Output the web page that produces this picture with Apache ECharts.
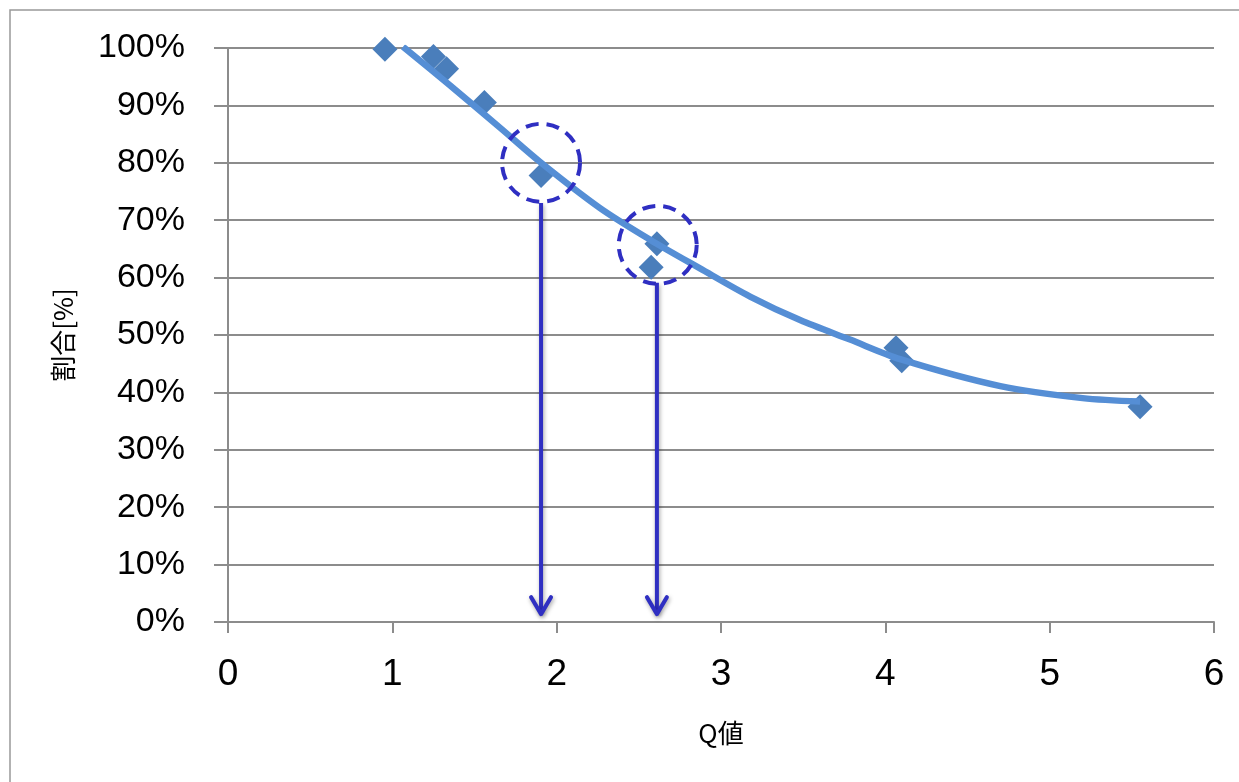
<!DOCTYPE html>
<html>
<head>
<meta charset="utf-8">
<script src="https://cdn.jsdelivr.net/npm/echarts@6/dist/echarts.min.js"></script>
<style>html,body{margin:0;padding:0;background:#fff}#c{width:1239px;height:782px}</style>
</head>
<body>
<div id="c"></div>
<script>
// measured points
const pointX = [0.955, 1.25, 1.33, 1.56, 1.905, 2.575, 2.61, 4.065, 4.10, 5.55];
const pointY = [0.998, 0.985, 0.964, 0.905, 0.778, 0.618, 0.659, 0.478, 0.455, 0.375];
// trend line
const trendX = [1.065, 1.35, 1.66, 1.905, 2.264, 2.568, 2.872, 3.177, 3.481, 3.785, 4.09, 4.70, 5.20, 5.55];
const trendY = [1.002, 0.935, 0.86, 0.80, 0.721, 0.666, 0.616, 0.567, 0.526, 0.492, 0.458, 0.411, 0.39, 0.384];
// highlighted points (dashed circles)
const circleX = [1.905, 2.615];
const circleY = [0.80, 0.657];
// arrows
const arrowX = [1.905, 2.61];
const arrowFrom = [0.730, 0.591];
const arrowTo = [0.012, 0.012];

const chart = echarts.init(document.getElementById('c'));
const gray = '#8c8c8c';
const dark = '#2f2fc2';
const font = '"Liberation Sans", "Noto Sans CJK JP", sans-serif';

chart.setOption({
  animation: false,
  backgroundColor: '#fff',
  graphic: [{
    type: 'rect', shape: {x: 10, y: 10, width: 1240, height: 790},
    style: {fill: 'none', stroke: '#999', lineWidth: 1.5}, silent: true, z: -1
  }],
  grid: {left: 228, right: 25, top: 48, bottom: 160},
  xAxis: {
    type: 'value', min: 0, max: 6, interval: 1,
    name: 'Q値', nameLocation: 'middle', nameGap: 98,
    nameTextStyle: {fontSize: 26, color: '#000', fontFamily: '"Noto Sans CJK JP", sans-serif'},
    axisLine: {show: true, onZero: false, lineStyle: {color: gray, width: 2}},
    axisTick: {show: true, length: 11, lineStyle: {color: gray, width: 2}},
    axisLabel: {fontSize: 37, color: '#000', margin: 34, fontFamily: font},
    splitLine: {show: false}
  },
  yAxis: {
    type: 'value', min: 0, max: 1, interval: 0.1,
    name: '割合[%]', nameLocation: 'middle', nameGap: 152, nameRotate: 90,
    nameTextStyle: {fontSize: 26, color: '#000', fontFamily: '"Noto Sans CJK JP", sans-serif'},
    axisLine: {show: true, lineStyle: {color: gray, width: 2}},
    axisTick: {show: true, length: 14, lineStyle: {color: gray, width: 2}},
    axisLabel: {fontSize: 34, color: '#000', margin: 43, fontFamily: font,
      formatter: v => Math.round(v * 100) + '%'},
    splitLine: {show: true, lineStyle: {color: gray, width: 2}}
  },
  series: [
    {
      type: 'scatter', symbol: 'diamond', symbolSize: 25, z: 2,
      itemStyle: {color: '#4a7ebb', opacity: 1},
      data: pointX.map((x, i) => [x, pointY[i]])
    },
    {
      type: 'line', smooth: 0.3, showSymbol: false, z: 3,
      lineStyle: {color: '#558ed5', width: 6.5},
      data: trendX.map((x, i) => [x, trendY[i]])
    },
    {
      type: 'custom', z: 4, clip: false,
      renderItem: (params, api) => {
        const c = api.coord([api.value(0), api.value(1)]);
        return {type: 'circle', shape: {cx: c[0], cy: c[1], r: 39},
          style: {fill: 'none', stroke: dark, lineWidth: 4, lineDash: [13, 8]}};
      },
      data: circleX.map((x, i) => [x, circleY[i]])
    },
    {
      type: 'custom', z: 5, clip: false,
      renderItem: (params, api) => {
        const a = api.coord([api.value(0), api.value(1)]);
        const b = api.coord([api.value(0), api.value(2)]);
        const st = {stroke: dark, lineWidth: 4, fill: 'none',
          shadowColor: 'rgba(0,0,0,0.35)', shadowBlur: 4, shadowOffsetX: 1, shadowOffsetY: 2};
        return {type: 'group', children: [
          {type: 'line', shape: {x1: a[0], y1: a[1], x2: b[0], y2: b[1] - 2}, style: st},
          {type: 'polyline', shape: {points: [[b[0] - 10, b[1] - 18], [b[0], b[1] - 1], [b[0] + 10, b[1] - 18]]},
            style: Object.assign({}, st, {lineJoin: 'round', lineCap: 'round'})}
        ]};
      },
      data: arrowX.map((x, i) => [x, arrowFrom[i], arrowTo[i]])
    }
  ]
});
</script>
</body>
</html>
